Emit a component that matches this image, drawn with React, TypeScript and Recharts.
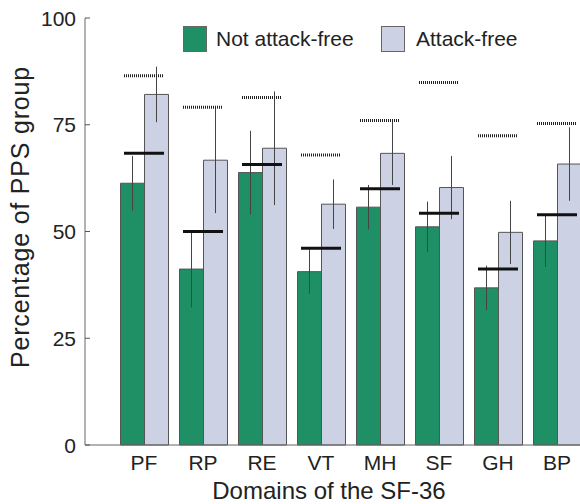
import { ComposedChart, Bar, ErrorBar, Scatter, XAxis, YAxis } from "recharts";

// SF-36 domain scores, not attack-free vs attack-free PPS group

const domains = ["PF", "RP", "RE", "VT", "MH", "SF", "GH", "BP"];
const notAttackFree = [61.3, 41.2, 63.8, 40.6, 55.7, 51.1, 36.8, 47.8];
const attackFree = [82.1, 66.7, 69.5, 56.4, 68.3, 60.3, 49.8, 65.8];
const notAttackFreeErr = [6.4, 9.0, 9.8, 5.2, 5.2, 5.9, 5.2, 6.1];
const attackFreeErr = [6.5, 12.4, 13.3, 5.8, 7.4, 7.4, 7.4, 8.6];
// horizontal markers: solid over the not attack-free bars, dotted over attack-free
const solidMarks = [68.3, 50.0, 65.7, 46.1, 60.0, 54.3, 41.2, 53.9];
const dottedMarks = [86.5, 79.1, 81.4, 67.9, 76.0, 84.9, 72.4, 75.3];
const yTicks = [0, 25, 50, 75, 100];

const FONT = "'Liberation Sans', Arial, Helvetica, sans-serif";
const GREEN = "#1f8f66";
const LAVENDER = "#cdd1e4";

const data = domains.map((d, i) => ({
  domain: d,
  notFree: notAttackFree[i],
  free: attackFree[i],
  notFreeErr: notAttackFreeErr[i],
  freeErr: attackFreeErr[i],
  solid: solidMarks[i],
  dotted: dottedMarks[i],
}));

const YTick = (props: any) => {
  const { x, y, payload } = props;
  return (
    <g>
      <line x1={x + 9} x2={x + 14} y1={y} y2={y} stroke="#555" />
      <text x={x} y={y} dy="0.36em" textAnchor="end" fontSize={21} fill="#222" fontFamily={FONT}>
        {payload.value}
      </text>
    </g>
  );
};

const SolidMark = (p: any) => (
  <line x1={p.cx - 20} x2={p.cx + 20} y1={p.cy} y2={p.cy} stroke="#111" strokeWidth={3} />
);

const DottedMark = (p: any) => (
  <line
    x1={p.cx - 20}
    x2={p.cx + 20}
    y1={p.cy}
    y2={p.cy}
    stroke="#222"
    strokeWidth={3}
    strokeDasharray="1 1"
  />
);

export default function App() {
  return (
    <div
      style={{
        position: "absolute",
        left: 0,
        top: 0,
        width: 580,
        height: 504,
        overflow: "hidden",
        fontFamily: FONT,
        background: "#fff",
      }}
    >
      <ComposedChart
        width={600}
        height={504}
        data={data}
        margin={{ top: 18, right: 13.5, bottom: 0, left: 0 }}
        barGap={0}
        barCategoryGap={6}
      >
        <XAxis
          dataKey="domain"
          height={59}
          padding={{ left: 29.5, right: 0 }}
          tickLine={false}
          tickSize={0}
          tickMargin={10}
          axisLine={{ stroke: "#666" }}
          tick={{ fontSize: 21, fill: "#222", fontFamily: FONT }}
          label={{
            content: () => (
              <text x={329} y={498.5} textAnchor="middle" fontSize={24} fill="#222" fontFamily={FONT}>
                Domains of the SF-36
              </text>
            ),
          }}
        />
        <YAxis
          width={85}
          domain={[0, 100]}
          ticks={yTicks}
          tickLine={false}
          tickSize={0}
          tickMargin={9}
          axisLine={{ stroke: "#666" }}
          tick={<YTick />}
          label={{
            content: () => (
              <text
                x={29}
                y={217}
                transform="rotate(-90, 29, 217)"
                textAnchor="middle"
                fontSize={25}
                letterSpacing={0.8}
                fill="#222"
                fontFamily={FONT}
              >
                Percentage of PPS group
              </text>
            ),
          }}
        />
        <Bar dataKey="notFree" fill={GREEN} stroke="#555" strokeWidth={1} isAnimationActive={false}>
          <ErrorBar dataKey="notFreeErr" width={0} stroke="#444" strokeWidth={1} />
        </Bar>
        <Bar dataKey="free" fill={LAVENDER} stroke="#555" strokeWidth={1} isAnimationActive={false}>
          <ErrorBar dataKey="freeErr" width={0} stroke="#444" strokeWidth={1} />
        </Bar>
        <Scatter dataKey="solid" shape={SolidMark} isAnimationActive={false} />
        <Scatter dataKey="dotted" shape={DottedMark} isAnimationActive={false} />
      </ComposedChart>
      <svg width={580} height={70} style={{ position: "absolute", left: 0, top: 0 }}>
        <rect x={183.5} y={26.5} width={23} height={25} fill={GREEN} stroke="#666" />
        <text x={216} y={46} fontSize={21} fill="#222" fontFamily={FONT}>
          Not attack-free
        </text>
        <rect x={381.5} y={26.5} width={23} height={25} fill={LAVENDER} stroke="#666" />
        <text x={416} y={46} fontSize={21} fill="#222" fontFamily={FONT}>
          Attack-free
        </text>
      </svg>
    </div>
  );
}
